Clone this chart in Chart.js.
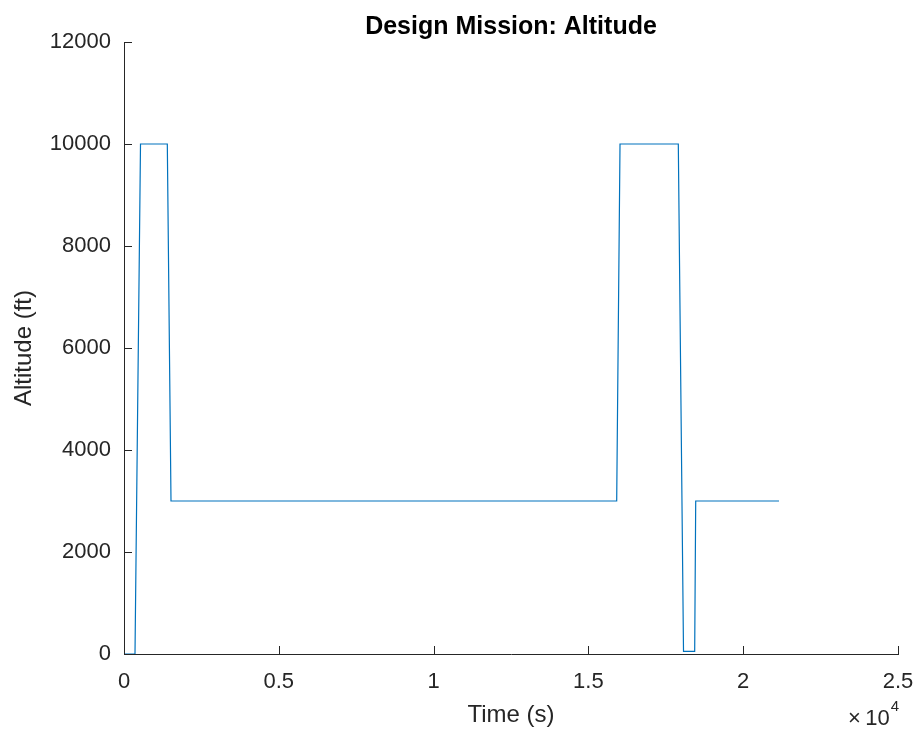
<!DOCTYPE html>
<html>
<head>
<meta charset="utf-8">
<title>Design Mission: Altitude</title>
<script src="https://cdn.jsdelivr.net/npm/chart.js@4"></script>
<style>
  html, body { margin: 0; padding: 0; background: #ffffff; }
  #wrap { width: 919px; height: 732px; }
</style>
</head>
<body>
<div id="wrap"><canvas id="chart" width="919" height="732"></canvas></div>
<script>
// Mission profile: time (s) and altitude (ft) breakpoints
const timeS      = [0, 355, 533, 1399, 1518, 15914, 16021, 17904, 18072, 18433, 18466, 21156];
const altitudeFt = [0, 0, 10000, 10000, 3000, 3000, 10000, 10000, 50, 50, 3000, 3000];

// Axis ticks
const xTicks = [0, 5000, 10000, 15000, 20000, 25000];
const xTickLabels = ['0', '0.5', '1', '1.5', '2', '2.5'];
const yTicks = [0, 2000, 4000, 6000, 8000, 10000, 12000];
const yTickLabels = ['0', '2000', '4000', '6000', '8000', '10000', '12000'];

const chartTitle = 'Design Mission: Altitude';
const xTitle = 'Time (s)';
const yTitle = 'Altitude (ft)';
const xExponent = '4';

const AXIS_COLOR = '#262626';
const LINE_COLOR = '#0072BD';
const FONT = '"Liberation Sans", Arial, Helvetica, sans-serif';

const points = timeS.map((t, i) => ({ x: t, y: altitudeFt[i] }));

// Title centred over the plot, inward tick marks and the x-axis multiplier
const axisDecor = {
  id: 'axisDecor',
  afterDraw(chart) {
    const { ctx, chartArea, scales } = chart;
    const len = 8;
    ctx.save();

    ctx.fillStyle = '#000000';
    ctx.font = 'bold 25px ' + FONT;
    ctx.textAlign = 'center';
    ctx.textBaseline = 'middle';
    ctx.fillText(chartTitle, (chartArea.left + chartArea.right) / 2, 27);

    ctx.strokeStyle = AXIS_COLOR;
    ctx.lineWidth = 1;
    ctx.beginPath();
    xTicks.forEach(v => {
      const px = Math.round(scales.x.getPixelForValue(v)) + 0.5;
      ctx.moveTo(px, chartArea.bottom);
      ctx.lineTo(px, chartArea.bottom - len);
    });
    yTicks.forEach(v => {
      const py = Math.round(scales.y.getPixelForValue(v)) + 0.5;
      ctx.moveTo(chartArea.left, py);
      ctx.lineTo(chartArea.left + len, py);
    });
    ctx.stroke();

    // ×10^4 multiplier under the right end of the x axis
    const rightPx = scales.x.getPixelForValue(xTicks[xTicks.length - 1]);
    ctx.fillStyle = AXIS_COLOR;
    ctx.textBaseline = 'alphabetic';
    ctx.font = '15px ' + FONT;
    ctx.textAlign = 'left';
    const supW = ctx.measureText(xExponent).width;
    ctx.fillText(xExponent, rightPx - supW + 1, 711);
    ctx.font = '22px ' + FONT;
    ctx.textAlign = 'right';
    ctx.fillText('\u00d7\u200910', rightPx - supW, 725);
    ctx.restore();
  }
};

new Chart(document.getElementById('chart'), {
  type: 'scatter',
  data: {
    datasets: [{
      data: points,
      showLine: true,
      borderColor: LINE_COLOR,
      borderWidth: 1.2,
      pointRadius: 0,
      pointHoverRadius: 0,
      fill: false,
      tension: 0
    }]
  },
  options: {
    responsive: false,
    animation: false,
    events: [],
    layout: { padding: { left: 0, right: 21, top: 42, bottom: 0 } },
    plugins: {
      legend: { display: false },
      tooltip: { enabled: false },
      title: { display: false }
    },
    scales: {
      x: {
        type: 'linear',
        min: 0,
        max: 25000,
        afterBuildTicks(scale) { scale.ticks = xTicks.map(v => ({ value: v })); },
        afterFit(scale) {
          scale.height = 78;
          scale.paddingLeft = 0;
          scale.paddingRight = 0;
        },
        grid: { display: false },
        border: { display: true, color: AXIS_COLOR, width: 1 },
        ticks: {
          color: AXIS_COLOR,
          padding: 7,
          maxRotation: 0,
          font: { family: FONT, size: 22 },
          callback: (v) => xTickLabels[xTicks.indexOf(v)]
        },
        title: {
          display: true,
          text: xTitle,
          color: AXIS_COLOR,
          font: { family: FONT, size: 24, lineHeight: 1.2 },
          padding: { top: 4, bottom: 2.5 }
        }
      },
      y: {
        type: 'linear',
        min: 0,
        max: 12000,
        afterBuildTicks(scale) { scale.ticks = yTicks.map(v => ({ value: v })); },
        afterFit(scale) { scale.width = 124; },
        grid: { display: false },
        border: { display: true, color: AXIS_COLOR, width: 1 },
        ticks: {
          color: AXIS_COLOR,
          padding: 5,
          font: { family: FONT, size: 22 },
          callback: (v) => yTickLabels[yTicks.indexOf(v)]
        },
        title: {
          display: true,
          text: yTitle,
          color: AXIS_COLOR,
          font: { family: FONT, size: 24, lineHeight: 1.2 },
          padding: { top: 10, bottom: 4 }
        }
      }
    }
  },
  plugins: [axisDecor]
});
</script>
</body>
</html>
